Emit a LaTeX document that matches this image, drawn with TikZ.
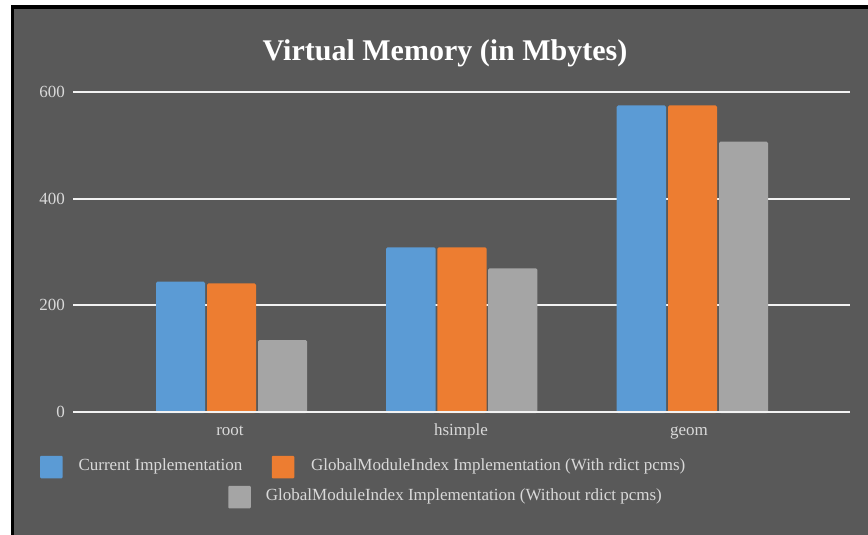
\documentclass[tikz,border=0pt]{standalone}
\usepackage{fontspec}
\setmainfont{Liberation Serif}

\definecolor{chartbg}{HTML}{595959}
\definecolor{barblue}{HTML}{5B9BD5}
\definecolor{barorange}{HTML}{ED7D31}
\definecolor{bargray}{HTML}{A5A5A5}
\definecolor{labelgray}{HTML}{D9D9D9}
\definecolor{gridwhite}{HTML}{F2F2F2}

\begin{document}
\begin{tikzpicture}[
    x=1pt, y=-1pt,
    every node/.style={inner sep=0pt, text=labelgray, font=\fontsize{17}{20}\selectfont},
    gridline/.style={gridwhite, line width=2pt},
    bar/.style={rounded corners=1.5pt},
    ticklabel/.style={anchor=base east},
    catlabel/.style={anchor=base},
    swatch/.style={rectangle, rounded corners=1pt, minimum size=22.5pt},
    legendtext/.style={anchor=base west}
]

\useasboundingbox (0,0) rectangle (868,535);

% ================= Frame =================

\fill[white] (0,0) rectangle (868,535);
\fill[black] (11,5) rectangle (868,535);
\fill[chartbg] (14,9.3) rectangle (868,535);

\node[text=white, font=\fontsize{30}{36}\selectfont\bfseries, anchor=base] (title) at (445,61) {Virtual Memory (in Mbytes)};



% ================= Grid =================

\draw[gridline] (73,91.7) -- (850,91.7);
\draw[gridline] (73,198.5) -- (850,198.5);
\draw[gridline] (73,305.2) -- (850,305.2);

\node[ticklabel] (y600) at (65,97.3) {600};
\node[ticklabel] (y400) at (65,204.1) {400};
\node[ticklabel] (y200) at (65,310.8) {200};
\node[ticklabel] (y0) at (65,417.6) {0};



% ================= Bars =================

% root
\fill[barblue, bar] (156,281.7) rectangle (205,413);
\fill[barorange, bar] (207,283.3) rectangle (256,413);
\fill[bargray, bar] (258,340) rectangle (307,413);

% hsimple
\fill[barblue, bar] (386,247.3) rectangle (435.7,413);
\fill[barorange, bar] (437.3,247.3) rectangle (486.7,413);
\fill[bargray, bar] (488,268.3) rectangle (537.3,413);

% geom
\fill[barblue, bar] (616.7,105.3) rectangle (666,413);
\fill[barorange, bar] (668,105.3) rectangle (717,413);
\fill[bargray, bar] (719,141.7) rectangle (768,413);

\draw[gridline] (73,412) -- (850,412);

\node[catlabel] (root) at (230,435) {root};
\node[catlabel] (hsimple) at (461,435) {hsimple};
\node[catlabel] (geom) at (689,435) {geom};



% ================= Legend =================

\node[swatch, fill=barblue] (sw1) at (51.3,467) {};
\node[legendtext] (lg1) at (78.3,470.5) {Current Implementation};

\node[swatch, fill=barorange] (sw2) at (283,467) {};
\node[legendtext] (lg2) at (311,470.5) {GlobalModuleIndex Implementation (With rdict pcms)};

\node[swatch, fill=bargray] (sw3) at (239.5,497) {};
\node[legendtext] (lg3) at (265.7,500.5) {GlobalModuleIndex Implementation (Without rdict pcms)};

\end{tikzpicture}
\end{document}
